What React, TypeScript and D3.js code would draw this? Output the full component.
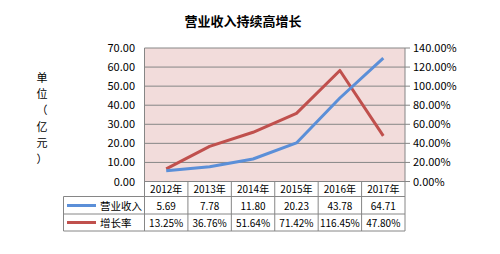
import React from "react";
import * as d3 from "d3";

const years = ["2012年", "2013年", "2014年", "2015年", "2016年", "2017年"];
const revenue = [5.69, 7.78, 11.8, 20.23, 43.78, 64.71];
const growth = [13.25, 36.76, 51.64, 71.42, 116.45, 47.8];
const revenueLabels = ["5.69", "7.78", "11.80", "20.23", "43.78", "64.71"];
const growthLabels = ["13.25%", "36.76%", "51.64%", "71.42%", "116.45%", "47.80%"];
const leftTicks = [0, 10, 20, 30, 40, 50, 60, 70];
const rightTicks = [0, 20, 40, 60, 80, 100, 120, 140];
const seriesNames = ["营业收入", "增长率"];
const yLabelChars = ["单", "位", "（", "亿", "元", "）"];

const W = 500, H = 254;
const L = 144.5, R = 405, T = 48, B = 181.5;
const tableLeft = 63.5;
const rowBottoms = [196.5, 214, 231];
const BLUE = "#5b8fd8";
const RED = "#c0504d";
const GRID = "#868686";
const font = "'Noto Sans CJK SC', 'Liberation Sans', sans-serif";

export default function App() {
  const x = d3.scaleBand<string>().domain(years).range([L, R]).padding(0);
  const yL = d3.scaleLinear().domain([0, 70]).range([B, T]);
  const yR = d3.scaleLinear().domain([0, 140]).range([B, T]);
  const cx = (i: number) => (x(years[i]) as number) + x.bandwidth() / 2;
  const lineRev = d3.line<number>().x((_, i) => cx(i)).y((d) => yL(d));
  const lineGr = d3.line<number>().x((_, i) => cx(i)).y((d) => yR(d));

  return (
    <svg width={W} height={H} style={{ position: "absolute", left: 0, top: 0, background: "#fff" }} fontFamily={font}>
      <text x={243} y={26} textAnchor="middle" fontSize={13} fontWeight="bold" fill="#000">营业收入持续高增长</text>
      {yLabelChars.map((c, i) => (
        <text key={i} x={42} y={82 + i * 16.2} textAnchor="middle" fontSize={11} fill="#000">{c}</text>
      ))}
      <rect x={L} y={T} width={R - L} height={B - T} fill="#f2dcdb" />
      {leftTicks.map((t) => (
        <g key={t}>
          {t > 0 && <line x1={L} x2={R} y1={yL(t)} y2={yL(t)} stroke={GRID} strokeWidth={1} />}
          <text x={135} y={yL(t) + 4} textAnchor="end" fontSize={11} fill="#000">{t.toFixed(2)}</text>
        </g>
      ))}
      {rightTicks.map((t) => (
        <g key={t}>
          <line x1={R} x2={410} y1={yR(t)} y2={yR(t)} stroke={GRID} strokeWidth={1} />
          <text x={413} y={yR(t) + 4} textAnchor="start" fontSize={11} fill="#000">{t.toFixed(2)}%</text>
        </g>
      ))}
      <line x1={L} x2={L} y1={T} y2={rowBottoms[2]} stroke={GRID} />
      <line x1={R} x2={R} y1={T} y2={rowBottoms[2]} stroke={GRID} />
      <line x1={L} x2={R} y1={B} y2={B} stroke={GRID} />
      {rowBottoms.map((yb, i) => (
        <line key={i} x1={tableLeft} x2={R} y1={yb} y2={yb} stroke={GRID} />
      ))}
      <line x1={tableLeft} x2={tableLeft} y1={rowBottoms[0]} y2={rowBottoms[2]} stroke={GRID} />
      {years.map((yr, i) => (
        <g key={yr}>
          {i > 0 && <line x1={x(yr)} x2={x(yr)} y1={B} y2={rowBottoms[2]} stroke={GRID} />}
          <text x={cx(i)} y={193} textAnchor="middle" fontSize={10} fill="#000">{yr}</text>
          <text x={cx(i)} y={209.5} textAnchor="middle" fontSize={10} fill="#000">{revenueLabels[i]}</text>
          <text x={cx(i)} y={226.5} textAnchor="middle" fontSize={10} fill="#000">{growthLabels[i]}</text>
        </g>
      ))}
      <line x1={67} x2={96} y1={205.5} y2={205.5} stroke={BLUE} strokeWidth={3} />
      <line x1={67} x2={96} y1={222.5} y2={222.5} stroke={RED} strokeWidth={3} />
      <text x={100} y={209.5} fontSize={10.5} fill="#000">{seriesNames[0]}</text>
      <text x={100} y={226.5} fontSize={10.5} fill="#000">{seriesNames[1]}</text>
      <path d={lineGr(growth) as string} fill="none" stroke={RED} strokeWidth={3} strokeLinejoin="round" />
      <path d={lineRev(revenue) as string} fill="none" stroke={BLUE} strokeWidth={3} strokeLinejoin="round" />
    </svg>
  );
}
